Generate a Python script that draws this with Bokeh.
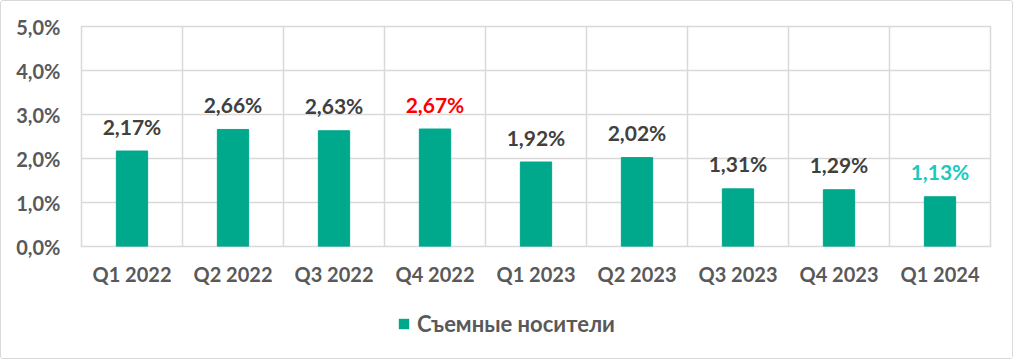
from bokeh.plotting import figure
from bokeh.layouts import column
from bokeh.models import ColumnDataSource, FixedTicker, Legend, LegendItem, Range1d
from bokeh.core.properties import value
from bokeh.embed import file_html
from bokeh.resources import INLINE

categories = ["Q1 2022", "Q2 2022", "Q3 2022", "Q4 2022", "Q1 2023",
              "Q2 2023", "Q3 2023", "Q4 2023", "Q1 2024"]
values = [2.17, 2.66, 2.63, 2.67, 1.92, 2.02, 1.31, 1.29, 1.13]
value_labels = ["2,17%", "2,66%", "2,63%", "2,67%", "1,92%", "2,02%", "1,31%", "1,29%", "1,13%"]
y_ticks = [0, 1, 2, 3, 4, 5]
y_tick_labels = ["0,0%", "1,0%", "2,0%", "3,0%", "4,0%", "5,0%"]
series_name = "Съемные носители"

label_colors = ["#404040"] * 9
label_colors[3] = "#FF0000"
label_colors[8] = "#1CC9BE"

FONT = "Lato"
BAR = "#00A88C"
GRID = "#D9D9D9"

x = list(range(len(categories)))
src = ColumnDataSource(dict(x=x, top=values, lab=value_labels, col=label_colors))

p = figure(width=1011, height=300, output_backend="svg", toolbar_location=None,
           x_range=(-0.5, len(categories) - 0.5), y_range=(0, 5),
           min_border_left=80, min_border_right=22, min_border_top=25, min_border_bottom=55)
p.outline_line_color = GRID
p.outline_line_width = 1.5

r = p.vbar(x="x", top="top", width=0.31, color=BAR, source=src)
p.text(x="x", y="top", text="lab", text_color="col", source=src,
       text_align="center", text_baseline="alphabetic", y_offset=-25,
       text_font=value(FONT), text_font_size=value("21px"), text_font_style="bold")

# axes
p.xaxis.ticker = FixedTicker(ticks=x)
p.xaxis.major_label_overrides = {i: c for i, c in enumerate(categories)}
p.yaxis.ticker = FixedTicker(ticks=y_ticks)
p.yaxis.major_label_overrides = {t: l for t, l in zip(y_ticks, y_tick_labels)}
for ax in (p.xaxis[0], p.yaxis[0]):
    ax.axis_line_color = None
    ax.major_tick_line_color = None
    ax.minor_tick_line_color = None
    ax.major_tick_out = 0
    ax.major_tick_in = 0
    ax.major_label_text_font = FONT
    ax.major_label_text_font_size = "20px"
    ax.major_label_text_font_style = "bold"
    ax.major_label_text_color = "#595959"
p.yaxis.major_label_standoff = 21
p.xaxis.major_label_standoff = 15

p.xgrid.ticker = FixedTicker(ticks=[i - 0.5 for i in range(len(categories) + 1)])
p.xgrid.grid_line_color = GRID
p.xgrid.grid_line_width = 1.5
p.ygrid.ticker = FixedTicker(ticks=y_ticks)
p.ygrid.grid_line_color = GRID
p.ygrid.grid_line_width = 1.5

# legend strip below the chart: its renderer has zero-width, unstroked bars,
# so only the legend entry is visible
p2 = figure(width=1011, height=57, output_backend="svg", toolbar_location=None,
            x_axis_type=None, y_axis_type=None, min_border=0,
            x_range=Range1d(-0.5, len(categories) - 0.5), y_range=Range1d(0, 5))
p2.outline_line_color = None
p2.grid.visible = False
r2 = p2.vbar(x="x", top="top", width=0, fill_color=BAR, line_color=None, source=src)
legend = Legend(items=[LegendItem(label=series_name, renderers=[r2])],
                location=(316, 21), orientation="horizontal",
                padding=0, margin=0, border_line_color=None, background_fill_alpha=0,
                glyph_width=13, glyph_height=13, label_standoff=7,
                label_text_font=FONT, label_text_font_size="22px",
                label_text_font_style="bold", label_text_color="#595959")
p2.add_layout(legend, "center")

layout = column(p, p2, spacing=0,
                styles={"border": "1px solid #D9D9D9", "border-radius": "3px"})

open("out.html", "w").write(file_html(layout, INLINE))
